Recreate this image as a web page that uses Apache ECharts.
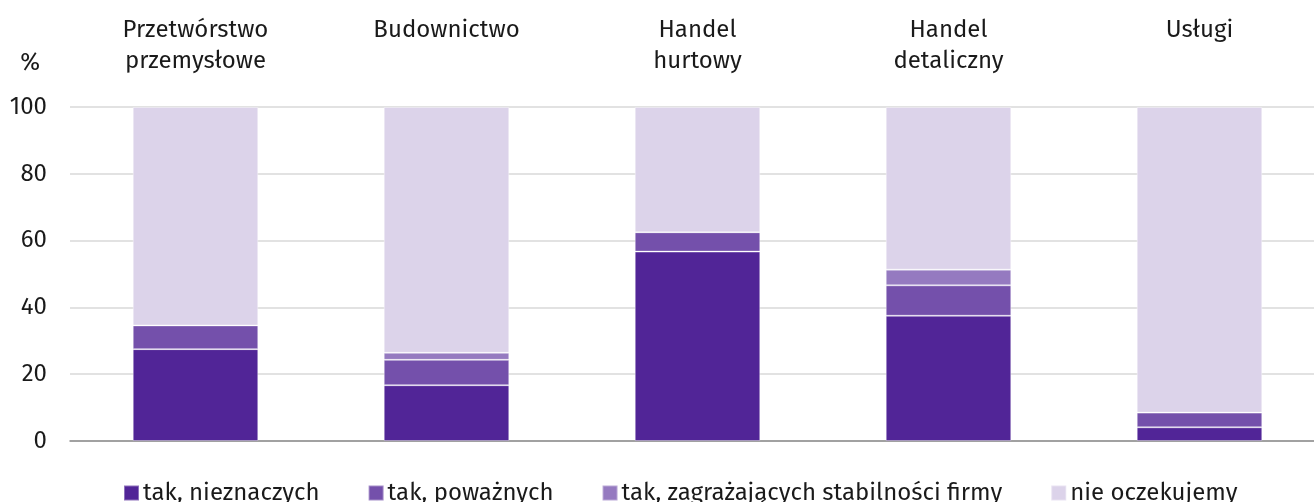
<!DOCTYPE html>
<html><head><meta charset="utf-8">
<script src="https://cdn.jsdelivr.net/npm/echarts@6/dist/echarts.min.js"></script>
<style>html,body{margin:0;padding:0;background:#fff}#c{width:1314px;height:502px}</style>
</head><body><div id="c"></div>
<script>
const categories = ['Przetwórstwo\nprzemysłowe', 'Budownictwo', 'Handel\nhurtowy', 'Handel\ndetaliczny', 'Usługi'];
const seriesNames = ['tak, nieznaczych', 'tak, poważnych', 'tak, zagrażających stabilności firmy', 'nie oczekujemy'];
const takNieznaczych = [27.5, 16.7, 56.7, 37.5, 4.1];
const takPowaznych = [7.1, 7.6, 5.8, 9.1, 4.4];
const takZagrazajacych = [0, 2.1, 0, 4.7, 0];
const nieOczekujemy = [65.4, 73.6, 37.5, 48.7, 91.5];
const yTicks = [0, 20, 40, 60, 80, 100];
const colors = ['#512597', '#7450ab', '#957ac0', '#dcd3ea'];
const values = [takNieznaczych, takPowaznych, takZagrazajacych, nieOczekujemy];
const font = 'Fira Sans, Noto Sans, sans-serif';
const chart = echarts.init(document.getElementById('c'));
chart.setOption({
  animation: false,
  color: colors,
  grid: { left: 70, top: 107, width: 1255, height: 334, outerBoundsMode: 'none', containLabel: false },
  legend: {
    top: 481, left: 123, padding: 0, itemWidth: 15, itemHeight: 15, itemGap: 48,
    icon: 'rect',
    textStyle: { fontFamily: font, fontSize: 24, color: '#1a1a1a', padding: [0, 0, 0, -1] },
    data: seriesNames
  },
  xAxis: [{
    type: 'category', data: categories, position: 'bottom',
    axisLine: { lineStyle: { color: '#8c8c8c', width: 1.5 } },
    axisTick: { show: false }, axisLabel: { show: false }
  }, {
    type: 'category', data: categories, position: 'top',
    axisLine: { show: false }, axisTick: { show: false },
    axisLabel: { fontFamily: font, fontSize: 24, color: '#1a1a1a', lineHeight: 31, verticalAlign: 'top', margin: 92, interval: 0 }
  }],
  yAxis: {
    type: 'value', min: 0, max: 100, interval: 20,
    name: '%', nameLocation: 'end', nameGap: 32,
    nameTextStyle: { fontFamily: font, fontSize: 24, color: '#1a1a1a', align: 'right', padding: [0, 30, 0, 0] },
    axisLabel: { fontFamily: font, fontSize: 24, color: '#1a1a1a', margin: 23,
      formatter: v => yTicks.includes(v) ? String(v) : '' },
    splitLine: { lineStyle: { color: '#d9d9d9', width: 1.5 } },
    axisLine: { show: false }, axisTick: { show: false }
  },
  series: seriesNames.map((n, i) => ({
    name: n, type: 'bar', stack: 'a', barWidth: '50%', data: values[i],
    itemStyle: { color: colors[i], borderColor: 'rgba(255,255,255,0.35)', borderWidth: 1 }
  }))
});
</script></body></html>
